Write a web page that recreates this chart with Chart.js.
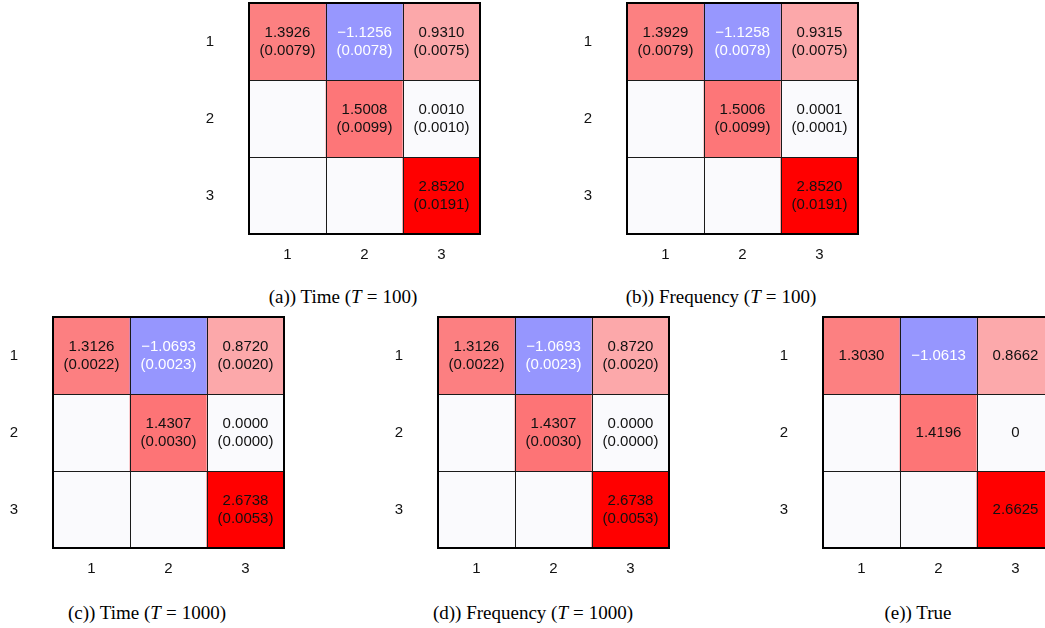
<!DOCTYPE html>
<html>
<head>
<meta charset="utf-8">
<script src="https://cdn.jsdelivr.net/npm/chart.js@4/dist/chart.umd.min.js"></script>
<style>
  html, body { margin: 0; padding: 0; background: #fff; width: 1045px; height: 628px; overflow: hidden; }
  .panel { position: absolute; }
  .cap {
    position: absolute; transform: translateX(-50%);
    font-family: "Liberation Serif", "Times New Roman", serif; font-size: 19px;
    line-height: 19px; color: #000; white-space: nowrap;
  }
  .cap .eq { padding: 0 5px; }
</style>
</head>
<body>
<script>
// Row / column indices of the 3x3 coefficient matrices
const rowLabels = ['1', '2', '3'];
const colLabels = ['1', '2', '3'];

// Estimates (upper triangle incl. diagonal) and their standard errors
const timeT100     = [[1.3926, -1.1256, 0.9310], [0, 1.5008, 0.0010], [0, 0, 2.8520]];
const timeT100Se   = [[0.0079, 0.0078, 0.0075], [null, 0.0099, 0.0010], [null, null, 0.0191]];
const freqT100     = [[1.3929, -1.1258, 0.9315], [0, 1.5006, 0.0001], [0, 0, 2.8520]];
const freqT100Se   = [[0.0079, 0.0078, 0.0075], [null, 0.0099, 0.0001], [null, null, 0.0191]];
const timeT1000    = [[1.3126, -1.0693, 0.8720], [0, 1.4307, 0.0000], [0, 0, 2.6738]];
const timeT1000Se  = [[0.0022, 0.0023, 0.0020], [null, 0.0030, 0.0000], [null, null, 0.0053]];
const freqT1000    = [[1.3126, -1.0693, 0.8720], [0, 1.4307, 0.0000], [0, 0, 2.6738]];
const freqT1000Se  = [[0.0022, 0.0023, 0.0020], [null, 0.0030, 0.0000], [null, null, 0.0053]];
const trueValues   = [[1.3030, -1.0613, 0.8662], [0, 1.4196, 0], [0, 0, 2.6625]];

// Panel placement (grid top-left corner) and captions
const panels = [
  { values: timeT100,   errors: timeT100Se,  gx: 249, gy: 3,   capX: 343, capY: 287, caption: '(a)) Time (<i>T</i><span class="eq">=</span>100)' },
  { values: freqT100,   errors: freqT100Se,  gx: 627, gy: 3,   capX: 721, capY: 287, caption: '(b)) Frequency (<i>T</i><span class="eq">=</span>100)' },
  { values: timeT1000,  errors: timeT1000Se, gx: 53,  gy: 317, capX: 147, capY: 603, caption: '(c)) Time (<i>T</i><span class="eq">=</span>1000)' },
  { values: freqT1000,  errors: freqT1000Se, gx: 438, gy: 317, capX: 533, capY: 603, caption: '(d)) Frequency (<i>T</i><span class="eq">=</span>1000)' },
  { values: trueValues, errors: null,        gx: 823, gy: 317, capX: 918, capY: 603, caption: '(e)) True', intZero: true }
];

const CELL = 77;
const PAD_L = 60, PAD_T = 3, PAD_R = 3, PAD_B = 40;
const SANS = '"Liberation Sans", Arial, Helvetica, sans-serif';

// Diverging blue-white-red map, symmetric around zero
const MID = [250, 250, 253];
function cellColor(v, vmax) {
  const t = Math.min(1, Math.abs(v) / vmax);
  let rgb;
  if (v >= 0) rgb = [MID[0] + (255 - MID[0]) * t, MID[1] * (1 - t), MID[2] * (1 - t)];
  else rgb = [MID[0] * (1 - t), MID[1] * (1 - t), MID[2] + (255 - MID[2]) * t];
  return 'rgb(' + rgb.map(c => Math.round(c)).join(',') + ')';
}

function fmt(v, intZero) {
  if (intZero && v === 0) return '0';
  const s = Math.abs(v).toFixed(4);
  return v < 0 ? '\u2212' + s : s;
}

// Cell annotations: value and (standard error) in the upper triangle
const cellText = {
  id: 'cellText',
  afterDatasetsDraw(chart, args, opts) {
    const ctx = chart.ctx;
    ctx.save();
    ctx.font = '15px ' + SANS;
    ctx.textAlign = 'center';
    ctx.textBaseline = 'middle';
    chart.data.datasets.forEach((ds, r) => {
      const meta = chart.getDatasetMeta(r);
      meta.data.forEach((el, c) => {
        if (c < r) return;
        const v = opts.values[r][c];
        const cx = el.x, cy = (el.y + el.base) / 2;
        ctx.fillStyle = v < 0 ? '#ffffff' : '#111111';
        if (opts.errors) {
          ctx.fillText(fmt(v, opts.intZero), cx, cy - 8.5);
          ctx.fillText('(' + opts.errors[r][c].toFixed(4) + ')', cx, cy + 9);
        } else {
          ctx.fillText(fmt(v, opts.intZero), cx, cy);
        }
      });
    });
    ctx.restore();
  }
};

// Cell separators and the outer frame
const cellGrid = {
  id: 'cellGrid',
  afterDatasetsDraw(chart) {
    const ctx = chart.ctx, a = chart.chartArea;
    const xs = chart.scales.x, ys = chart.scales.y;
    ctx.save();
    ctx.strokeStyle = '#1a1a1a';
    ctx.lineWidth = 1;
    ctx.beginPath();
    [0.5, 1.5].forEach(b => {
      const px = Math.round(xs.getPixelForValue(b)) + 0.5;
      ctx.moveTo(px, a.top); ctx.lineTo(px, a.bottom);
    });
    [1.5, 2.5].forEach(b => {
      const py = Math.round(ys.getPixelForValue(b)) + 0.5;
      ctx.moveTo(a.left, py); ctx.lineTo(a.right, py);
    });
    ctx.stroke();
    ctx.strokeStyle = '#000';
    ctx.lineWidth = 2;
    ctx.strokeRect(a.left, a.top, a.right - a.left, a.bottom - a.top);
    ctx.restore();
  }
};

panels.forEach(p => {
  const W = PAD_L + CELL * 3 + PAD_R, H = PAD_T + CELL * 3 + PAD_B;
  const box = document.createElement('div');
  box.className = 'panel';
  box.style.left = (p.gx - PAD_L) + 'px';
  box.style.top = (p.gy - PAD_T) + 'px';
  box.style.width = W + 'px';
  box.style.height = H + 'px';
  const cv = document.createElement('canvas');
  cv.width = W; cv.height = H;
  cv.style.width = W + 'px'; cv.style.height = H + 'px';
  box.appendChild(cv);
  document.body.appendChild(box);

  const cap = document.createElement('div');
  cap.className = 'cap';
  cap.style.left = p.capX + 'px';
  cap.style.top = p.capY + 'px';
  cap.innerHTML = p.caption;
  document.body.appendChild(cap);

  const vmax = Math.max(...p.values.flat().map(Math.abs));

  const datasets = p.values.map((row, r) => ({
    label: rowLabels[r],
    data: row.map(() => [r + 0.5, r + 1.5]),
    backgroundColor: row.map(v => cellColor(v, vmax)),
    borderWidth: 0,
    grouped: false,
    barPercentage: 1,
    categoryPercentage: 1
  }));

  new Chart(cv, {
    type: 'bar',
    data: { labels: colLabels, datasets },
    options: {
      responsive: false,
      animation: false,
      devicePixelRatio: 1,
      layout: { padding: { top: PAD_T, right: PAD_R, left: 0, bottom: 0 } },
      scales: {
        x: {
          type: 'category',
          offset: true,
          grid: { display: false, drawTicks: false },
          border: { display: false },
          ticks: { font: { family: SANS, size: 15 }, color: '#111', padding: 12, maxRotation: 0 },
          afterFit: s => { s.height = PAD_B; s.paddingLeft = 0; s.paddingRight = 0; }
        },
        y: {
          type: 'linear',
          min: 0.5, max: 3.5,
          reverse: true,
          grid: { display: false, drawTicks: false },
          border: { display: false },
          afterBuildTicks: s => { s.ticks = rowLabels.map((_, i) => ({ value: i + 1 })); },
          ticks: {
            font: { family: SANS, size: 15 }, color: '#111', padding: 35,
            callback: v => rowLabels[Math.round(v) - 1]
          },
          afterFit: s => { s.width = PAD_L; s.paddingTop = 0; s.paddingBottom = 0; }
        }
      },
      plugins: {
        legend: { display: false },
        tooltip: { enabled: false },
        cellText: { values: p.values, errors: p.errors, intZero: !!p.intZero }
      }
    },
    plugins: [cellText, cellGrid]
  });
});
</script>
</body>
</html>
